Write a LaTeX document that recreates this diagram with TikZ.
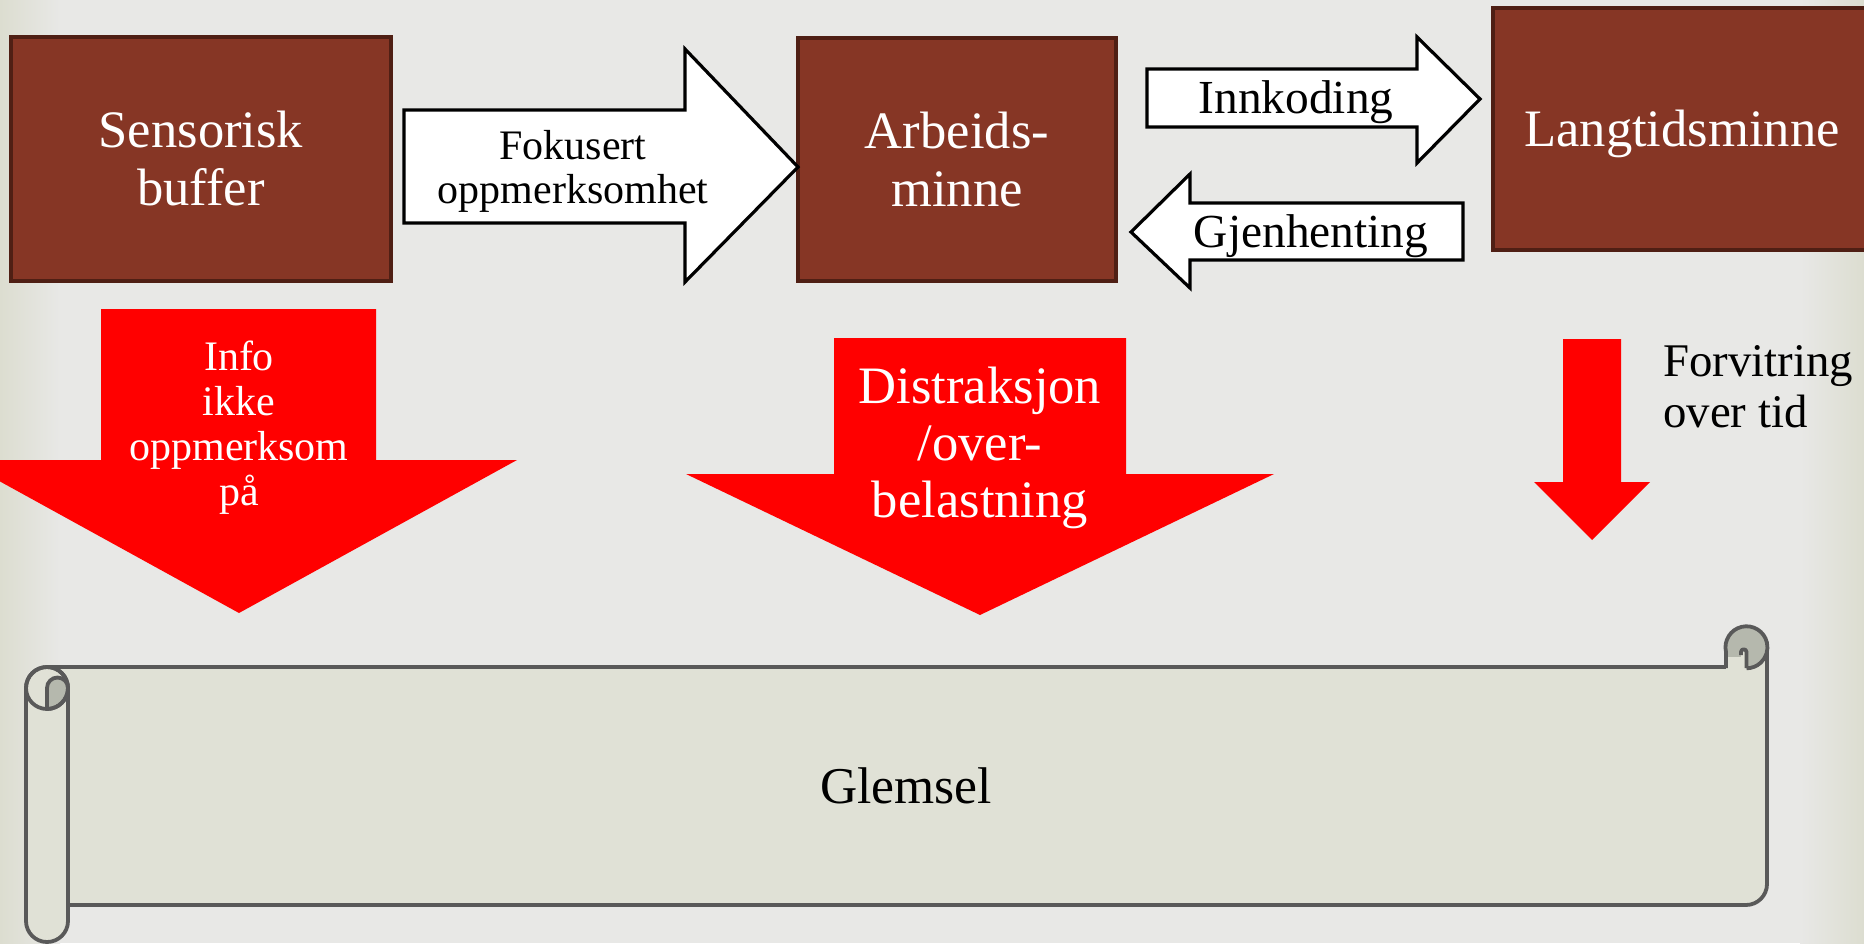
\documentclass[tikz,border=0pt]{standalone}
\usepackage{fontspec}
\setmainfont{Liberation Serif}
\definecolor{bgcol}{HTML}{E8E8E6}
\definecolor{edgecol}{HTML}{DCDDD0}
\definecolor{boxfill}{HTML}{863625}
\definecolor{boxline}{HTML}{4F1F14}
\definecolor{scrollfill}{HTML}{E0E1D6}
\definecolor{scrollshade}{HTML}{B5B8AD}
\definecolor{scrollline}{HTML}{595959}
\definecolor{redarrowcol}{HTML}{FF0000}
\begin{document}
\begin{tikzpicture}[x=0.5pt,y=-0.5pt,
  brownbox/.style={draw=boxline,line width=1.6pt,fill=boxfill,text=white,align=center,inner sep=0pt},
  bigtext/.style={font=\fontsize{26.3}{29}\selectfont},
  whitearrow/.style={draw=black,fill=white,line width=1.6pt,line join=miter},
  redarrow/.style={fill=redarrowcol},
  lbl/.style={inner sep=0pt,align=center},
  scrollpen/.style={draw=scrollline,line width=1.9pt,line join=round}]
\clip (0,0) rectangle (1864,943);
% background
\fill[bgcol] (0,0) rectangle (1864,943);
\shade[left color=edgecol,right color=bgcol] (0,0) rectangle (60,943);
\shade[left color=bgcol,right color=edgecol] (1800,0) rectangle (1864,943);

% boxes
\node[brownbox,bigtext,minimum width=190pt,minimum height=122pt] (sens) at (201,159) {Sensorisk\\buffer};
\node[brownbox,bigtext,minimum width=159pt,minimum height=121.5pt] (arb) at (957,159.5) {Arbeids-\\minne};
\node[brownbox,minimum width=189pt,minimum height=121pt] (lang) at (1682,129) {};
\node[lbl,text=white,bigtext] (langtxt) at (1682,134) {Langtidsminne};

% white block arrows
\draw[whitearrow] (404,110) -- (685,110) -- (685,49) -- (798,167) -- (685,282) -- (685,223) -- (404,223) -- cycle;
\node[lbl,font=\fontsize{21}{22}\selectfont] (fok) at (573,171) {Fokusert\\oppmerksomhet};
\draw[whitearrow] (1147,69) -- (1417,69) -- (1417,37) -- (1480,99) -- (1417,163) -- (1417,127) -- (1147,127) -- cycle;
\node[lbl,font=\fontsize{23.7}{26}\selectfont] (inn) at (1296,102) {Innkoding};
\draw[whitearrow] (1463,203) -- (1190,203) -- (1190,174) -- (1131,232) -- (1190,288) -- (1190,260) -- (1463,260) -- cycle;
\node[lbl,font=\fontsize{23.7}{26}\selectfont] (gjen) at (1311,236) {Gjenhenting};

% red block arrows
\fill[redarrow] (101,309) -- (376,309) -- (376,460) -- (517,460) -- (239,613) -- (-39,460) -- (101,460) -- cycle;
\node[lbl,text=white,font=\fontsize{21}{22.5}\selectfont] (info) at (239,428) {Info\\ikke\\oppmerksom\\på};
\fill[redarrow] (834,338) -- (1126,338) -- (1126,474) -- (1274,474) -- (980,615) -- (686,474) -- (834,474) -- cycle;
\node[lbl,text=white,font=\fontsize{26.3}{28.5}\selectfont] (dist) at (980,448) {Distraksjon\\/over-\\belastning};
\fill[redarrow] (1563,339) -- (1621,339) -- (1621,482) -- (1650,482) -- (1592,540) -- (1534,482) -- (1563,482) -- cycle;
\node[lbl,align=left,anchor=west,font=\fontsize{23.4}{25.5}\selectfont] (forv) at (1663,387) {Forvitring\\over tid};

% scroll body
\fill[scrollfill] (47,667) -- (1726,667) -- (1726,647) -- (1767,647) -- (1767,884) arc(0:90:21) -- (47,905) -- cycle;
\draw[scrollpen] (47,667) -- (1726,667);
\draw[scrollpen] (1767,647) -- (1767,884) arc(0:90:21) -- (68,905);
% right curl
\fill[scrollshade] (1746.5,647) circle (21);
\fill[scrollfill] (1726,668) -- (1726,657) -- (1741,657) -- (1741,652) arc(180:360:2.75) -- (1746.5,668) -- cycle;
\draw[scrollpen] (1726,668) -- (1726,652) arc(167:450:21);
\draw[scrollpen] (1746.5,668) -- (1746.5,652) arc(360:180:2.75) -- (1741,655);
% left roll
\filldraw[scrollpen,fill=scrollfill] (26,688) -- (26,921) arc(180:0:21) -- (68,688) arc(0:-180:21) -- cycle;
\filldraw[scrollpen,fill=scrollshade] (47,709) -- (47,688) arc(180:360:10.5) arc(0:90:21) -- cycle;
\draw[scrollpen] (47,688) circle (21);
\node[lbl,font=\fontsize{25.8}{28}\selectfont] (glem) at (906,786) {Glemsel};
\end{tikzpicture}
\end{document}
